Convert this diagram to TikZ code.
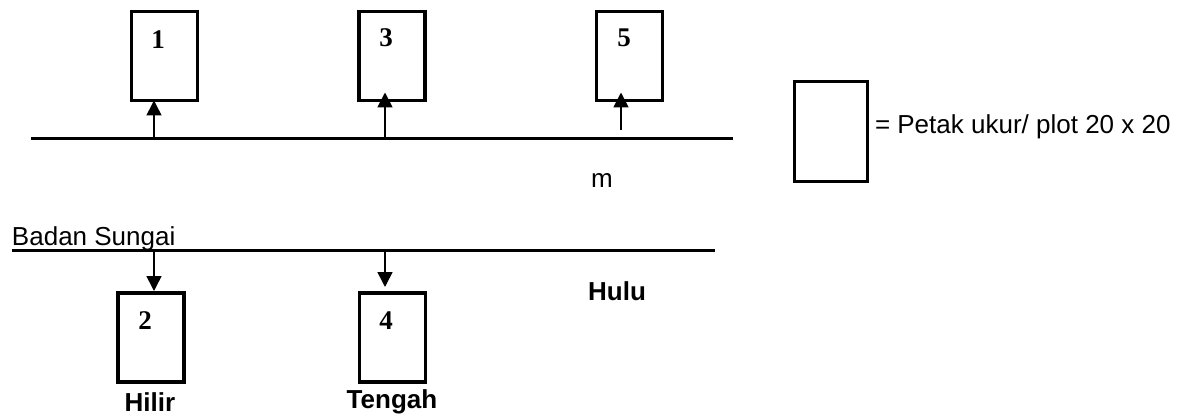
\documentclass[tikz,border=0pt]{standalone}
\usepackage{fontspec}
\setmainfont{Liberation Sans}
\newfontfamily\numfont{Liberation Serif}
\usetikzlibrary{arrows.meta}
\begin{document}
\begin{tikzpicture}[x=1pt,y=-1pt,
  plotbox/.style={draw,line width=3.3pt,minimum width=66pt,minimum height=89pt,inner sep=0pt,outer sep=0pt},
  numlbl/.style={font=\numfont\fontsize{27}{27}\selectfont\bfseries},
  txt/.style={font=\fontsize{26}{26}\selectfont,inner sep=0pt,outer sep=0pt},
  btxt/.style={font=\fontsize{26}{26}\selectfont\bfseries,inner sep=0pt,outer sep=0pt},
  river/.style={line width=3pt},
  arr/.style={line width=1.6pt,-{Triangle[width=15pt,length=15pt]}}]
\useasboundingbox (0,0) rectangle (1187,417);
% boxes (center positions)
\node[plotbox] (b1) at (164.5,56) {};
\node[plotbox] (b3) at (392,56) {};
\node[plotbox] (b5) at (629.5,56) {};
\node[plotbox] (b2) at (151,337.5) {};
\node[plotbox] (b4) at (392.5,337.5) {};
\node[plotbox,minimum width=73pt,minimum height=100pt] (leg) at (831,131.5) {};
% numbers
\node[numlbl] (n1) at (158,40) {1};
\node[numlbl] (n3) at (386,38) {3};
\node[numlbl] (n5) at (624,38) {5};
\node[numlbl] (n2) at (145,321) {2};
\node[numlbl] (n4) at (386,321) {4};
% lines
\coordinate (tl) at (31,139);
\coordinate (tr) at (733,139);
\draw[river] (tl) -- (tr);
\coordinate (bl) at (12,250);
\coordinate (br) at (715,250);
\draw[river] (bl) -- (br);
% arrows
\coordinate (a1) at (154,139);
\coordinate (a3) at (385,139);
\coordinate (a5) at (621,130);
\coordinate (a2) at (154,250);
\coordinate (a4) at (385,250);
\draw[arr] (a1) -- (a1 |- b1.south);
\draw[arr] (a3) -- ([yshift=8pt]a3 |- b3.south);
\draw[arr] (a5) -- ([yshift=8pt]a5 |- b5.south);
\draw[arr] (a2) -- ([yshift=2pt]a2 |- b2.north);
\draw[arr] (a4) -- ([yshift=6pt]a4 |- b4.north);
% texts
\node[txt,anchor=base west] (badan) at (12,245) {Badan Sungai};
\node[txt,anchor=base] (m) at (602,188) {m};
\node[txt,anchor=base west] (legtxt) at (875,134) {= Petak ukur/ plot 20 x 20};
\node[btxt,anchor=base] (hilir) at (150,411) {Hilir};
\node[btxt,anchor=base] (tengah) at (392,408) {Tengah};
\node[btxt,anchor=base] (hulu) at (617,300) {Hulu};
\end{tikzpicture}
\end{document}
